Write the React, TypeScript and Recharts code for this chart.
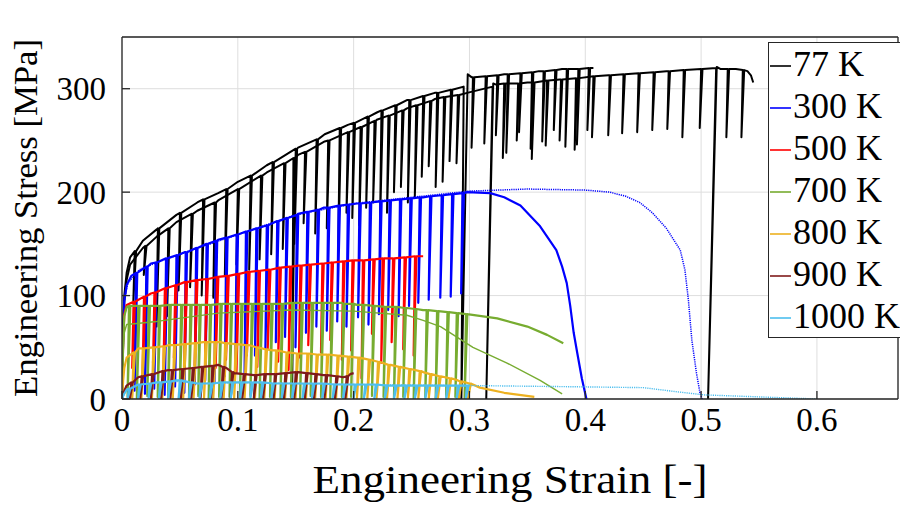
import React from "react";
import { CartesianGrid, Line, LineChart, XAxis, YAxis } from "recharts";

type Pt = [number, number];
type Spike = [number, number, number]; // strain, stress before unload, stress at bottom of unload

const FONT = '"Liberation Serif", "Times New Roman", serif';

const strainTicks = [0, 0.1, 0.2, 0.3, 0.4, 0.5, 0.6];
const stressTicks = [0, 100, 200, 300];

const legendLabels = ["77 K", "300 K", "500 K", "700 K", "800 K", "900 K", "1000 K"];
const legendColors = ["#000000", "#0000ff", "#ff0000", "#77ac30", "#edb120", "#7f1a1a", "#4dbeee"];

// 77 K, first test (stops at 0.41)
const k77aPath: Pt[] = [
  [0, 0], [0.001, 70], [0.002, 100], [0.004, 122], [0.007, 137], [0.018, 153], [0.03, 164],
  [0.047, 178], [0.065, 190], [0.083, 199], [0.1, 210], [0.125, 226], [0.152, 243], [0.175, 256],
  [0.195, 265], [0.22, 277], [0.246, 289], [0.27, 296], [0.295, 302], [0.293, 0], [0.2985, 314],
  [0.302, 311], [0.33, 314], [0.36, 317], [0.38, 319], [0.407, 320],
];
const k77aSpikes: Spike[] = [
  [0.011, 143, 95], [0.031, 165, 70], [0.05, 180, 105], [0.07, 193, 100], [0.09, 203, 120],
  [0.111, 216, 125], [0.13, 229, 140], [0.15, 242, 150], [0.168, 251, 160], [0.188, 262, 150],
  [0.2, 267, 175], [0.212, 273, 185], [0.224, 279, 170], [0.236, 284, 200], [0.248, 289, 190],
  [0.26, 293, 215], [0.272, 296, 205], [0.284, 299, 230], [0.303, 311, 243], [0.314, 312, 247],
  [0.324, 313, 255], [0.333, 314, 238], [0.344, 315, 258], [0.354, 316, 242], [0.364, 317, 249],
  [0.374, 318, 260], [0.384, 319, 244], [0.394, 319, 246], [0.403, 320, 260],
];

// 77 K, second test (to 0.545)
const k77bPath: Pt[] = [
  [0, 0], [0.001, 65], [0.002, 95], [0.004, 115], [0.007, 130], [0.018, 146], [0.03, 157],
  [0.047, 171], [0.065, 182], [0.083, 192], [0.1, 203], [0.125, 219], [0.152, 236], [0.175, 249],
  [0.195, 258], [0.22, 270], [0.246, 281], [0.27, 290], [0.298, 296], [0.32, 302], [0.3145, 0],
  [0.3205, 305], [0.323, 304], [0.35, 306], [0.378, 309], [0.42, 313], [0.47, 317], [0.513, 320],
  [0.506, 0], [0.5135, 321], [0.517, 319], [0.53, 319], [0.54, 317], [0.543, 313], [0.545, 306],
];
const k77bSpikes: Spike[] = [
  [0.02, 148, 120], [0.04, 165, 80], [0.06, 179, 108], [0.08, 190, 98], [0.1, 203, 130],
  [0.12, 216, 135], [0.14, 228, 145], [0.148, 233, 0], [0.158, 239, 170], [0.178, 250, 165],
  [0.195, 258, 180], [0.206, 263, 168], [0.218, 269, 190], [0.23, 274, 180], [0.242, 279, 205],
  [0.254, 284, 195], [0.266, 288, 225], [0.278, 292, 210], [0.29, 294, 228], [0.33, 305, 233],
  [0.342, 305, 250], [0.355, 306, 232], [0.367, 308, 245], [0.379, 309, 250], [0.392, 310, 241],
  [0.407, 312, 253], [0.421, 313, 255], [0.433, 314, 257], [0.446, 315, 258], [0.459, 316, 260],
  [0.472, 317, 261], [0.485, 318, 253], [0.5, 319, 262], [0.523, 319, 253], [0.536, 318, 253],
];

// 300 K
const k300Path: Pt[] = [
  [0, 0], [0.001, 60], [0.002, 95], [0.004, 110], [0.008, 119], [0.025, 131], [0.054, 142],
  [0.083, 154], [0.111, 163], [0.152, 179], [0.174, 185], [0.203, 189], [0.231, 192], [0.26, 195],
  [0.298, 200], [0.318, 199], [0.33, 195], [0.344, 187], [0.361, 167], [0.375, 144], [0.38, 128],
  [0.384, 112], [0.387, 90], [0.39, 64], [0.393, 45], [0.397, 20], [0.401, 0],
];
const k300Spikes: Spike[] = [
  [0.012, 122, 8], [0.021, 128, 5], [0.029, 132, 10], [0.038, 136, 4], [0.047, 139, 12],
  [0.055, 142, 6], [0.064, 146, 14], [0.073, 150, 18], [0.081, 153, 15], [0.09, 156, 22],
  [0.099, 159, 26], [0.107, 162, 20], [0.116, 165, 42], [0.125, 168, 48], [0.134, 172, 55],
  [0.142, 175, 60], [0.151, 178, 50], [0.16, 181, 64], [0.169, 183, 70], [0.178, 185, 66],
  [0.187, 187, 75], [0.195, 188, 70], [0.205, 189, 79], [0.214, 190, 72], [0.223, 191, 82],
  [0.231, 192, 86], [0.24, 193, 80], [0.249, 194, 90], [0.257, 195, 93], [0.266, 196, 96],
  [0.276, 197, 98], [0.285, 198, 99], [0.294, 199, 102],
];
const k300MonoPath: Pt[] = [
  [0, 0], [0.002, 95], [0.005, 112], [0.015, 125], [0.03, 132], [0.06, 144], [0.1, 159],
  [0.15, 178], [0.2, 189], [0.25, 195], [0.3, 201], [0.35, 203], [0.4, 202], [0.421, 200],
  [0.435, 196], [0.447, 190], [0.458, 180], [0.47, 165], [0.482, 144], [0.486, 125], [0.489, 96],
  [0.492, 57], [0.496, 25], [0.499, 6], [0.501, 0],
];

// 500 K
const k500Path: Pt[] = [
  [0, 0], [0.001, 55], [0.002, 82], [0.004, 91], [0.025, 102], [0.054, 113], [0.083, 118],
  [0.111, 123], [0.152, 129], [0.203, 134], [0.26, 138],
];
const k500Spikes: Spike[] = [
  [0.01, 94, 30], [0.019, 99, 22], [0.028, 103, 35], [0.037, 107, 25], [0.046, 110, 40],
  [0.055, 113, 28], [0.064, 115, 33], [0.073, 116, 45], [0.082, 118, 30], [0.091, 119, 38],
  [0.1, 121, 26], [0.109, 123, 42], [0.118, 124, 31], [0.127, 125, 48], [0.136, 127, 36],
  [0.145, 128, 28], [0.154, 129, 40], [0.162, 130, 52], [0.173, 131, 45], [0.181, 132, 57],
  [0.191, 133, 38], [0.199, 134, 47], [0.208, 134, 20], [0.217, 135, 63], [0.225, 136, 35],
  [0.234, 136, 55], [0.244, 137, 48], [0.253, 138, 42],
];

// 700 K
const k700Path: Pt[] = [
  [0, 0], [0.001, 55], [0.002, 80], [0.004, 89], [0.05, 91], [0.1, 92], [0.15, 93], [0.19, 93],
  [0.203, 91], [0.246, 88], [0.26, 86], [0.298, 82], [0.324, 78], [0.35, 70], [0.367, 62],
  [0.381, 54],
];
const k700Spikes: Spike[] = [
  [0.006, 90, 2], [0.014, 90, 1], [0.023, 90, 3], [0.032, 90, 2], [0.041, 91, 1], [0.051, 91, 2],
  [0.059, 91, 0], [0.067, 91, 3], [0.076, 91, 1], [0.085, 92, 2], [0.094, 92, 2], [0.103, 92, 1],
  [0.112, 92, 3], [0.12, 92, 1], [0.129, 92, 2], [0.138, 92, 0], [0.147, 93, 2], [0.155, 93, 1],
  [0.164, 93, 3], [0.173, 93, 2], [0.181, 93, 1], [0.191, 92, 2], [0.199, 92, 2], [0.208, 91, 1],
  [0.217, 90, 3], [0.227, 89, 2], [0.236, 89, 1], [0.244, 88, 2], [0.253, 87, 0], [0.263, 86, 2],
  [0.272, 85, 1], [0.281, 84, 3], [0.289, 83, 2], [0.297, 82, 1],
];
const k700MonoPath: Pt[] = [
  [0, 0], [0.001, 45], [0.002, 64], [0.004, 72], [0.03, 75], [0.083, 83], [0.145, 86], [0.2, 85],
  [0.246, 81], [0.26, 76], [0.275, 70], [0.303, 50], [0.332, 35], [0.361, 18], [0.38, 5],
];

// 800 K
const k800Path: Pt[] = [
  [0, 0], [0.001, 18], [0.002, 30], [0.004, 40], [0.014, 49], [0.04, 52], [0.07, 55], [0.085, 55],
  [0.11, 52], [0.13, 47], [0.152, 44], [0.174, 43], [0.203, 40], [0.232, 33], [0.26, 26],
  [0.29, 18], [0.301, 15], [0.309, 11], [0.33, 6], [0.356, 2],
];
const k800Spikes: Spike[] = [
  [0.01, 45, 0], [0.018, 49, 1], [0.027, 50, 0], [0.036, 51, 1], [0.045, 52, 0], [0.054, 53, 0],
  [0.063, 54, 1], [0.072, 55, 0], [0.08, 55, 0], [0.089, 54, 1], [0.098, 53, 0], [0.107, 52, 0],
  [0.116, 50, 1], [0.124, 48, 0], [0.133, 47, 0], [0.142, 45, 1], [0.151, 44, 0], [0.16, 44, 0],
  [0.168, 43, 1], [0.177, 43, 0], [0.186, 42, 0], [0.195, 41, 1], [0.204, 40, 0], [0.213, 38, 0],
  [0.221, 36, 1], [0.23, 33, 0], [0.239, 31, 0], [0.248, 29, 1], [0.257, 27, 0], [0.266, 24, 0],
  [0.274, 22, 1], [0.283, 20, 0], [0.292, 17, 0], [0.3, 15, 1],
];

// 900 K
const k900Path: Pt[] = [
  [0, 0], [0.001, 4], [0.002, 8], [0.004, 13], [0.014, 21], [0.04, 28], [0.07, 31], [0.083, 33],
  [0.09, 30], [0.097, 25], [0.114, 23], [0.152, 26], [0.174, 23], [0.191, 21], [0.197, 24],
  [0.2, 25],
];
const k900Spikes: Spike[] = [
  [0.008, 16, 0], [0.017, 22, 1], [0.026, 24, 0], [0.035, 27, 0], [0.043, 28, 1], [0.052, 29, 0],
  [0.061, 30, 0], [0.069, 31, 1], [0.078, 32, 0], [0.087, 31, 0], [0.095, 26, 1], [0.105, 24, 0],
  [0.115, 23, 0], [0.123, 24, 1], [0.132, 24, 0], [0.141, 25, 0], [0.15, 26, 1], [0.159, 25, 0],
  [0.167, 24, 0], [0.176, 23, 1], [0.185, 22, 0], [0.194, 22, 0],
];

// 1000 K
const k1000Path: Pt[] = [
  [0, 0], [0.001, 3], [0.002, 5], [0.004, 9], [0.014, 14], [0.03, 16], [0.047, 18], [0.055, 17],
  [0.065, 15], [0.1, 16], [0.152, 15], [0.2, 14], [0.25, 13], [0.3, 13],
];
const k1000Spikes: Spike[] = [
  [0.006, 10, 0], [0.015, 14, 0], [0.024, 15, 0], [0.033, 16, 0], [0.041, 17, 0], [0.05, 18, 0],
  [0.059, 16, 0], [0.068, 15, 0], [0.077, 15, 0], [0.086, 16, 0], [0.095, 16, 0], [0.103, 16, 0],
  [0.112, 16, 0], [0.121, 16, 0], [0.13, 15, 0], [0.139, 15, 0], [0.148, 15, 0], [0.157, 15, 0],
  [0.165, 15, 0], [0.174, 15, 0], [0.183, 14, 0], [0.192, 14, 0], [0.201, 14, 0], [0.21, 14, 0],
  [0.219, 14, 0], [0.228, 13, 0], [0.236, 13, 0], [0.245, 13, 0], [0.254, 13, 0], [0.263, 13, 0],
  [0.272, 13, 0], [0.281, 13, 0], [0.29, 13, 0], [0.298, 13, 0],
];
const k1000MonoPath: Pt[] = [
  [0, 0], [0.002, 5], [0.004, 9], [0.014, 14], [0.047, 17], [0.065, 15], [0.1, 16], [0.2, 14],
  [0.3, 13], [0.378, 12], [0.45, 11], [0.479, 7], [0.502, 4], [0.551, 2], [0.6, 0],
];

// unload leans back by this much strain, reload comes up slightly further on,
// so each cycle shows as a narrow spike like in the test record
const UNLOAD_BACK = 0.0012;
const RELOAD_FWD = 0.0012;

function toSeries(path: Pt[], spikes: Spike[] = []) {
  const out: { x: number; y: number }[] = [];
  let k = 0;
  const pushSpike = () => {
    const [s, top, low] = spikes[k++];
    out.push({ x: s, y: top }, { x: s - UNLOAD_BACK, y: low }, { x: s + RELOAD_FWD, y: top });
  };
  for (const [x, y] of path) {
    while (k < spikes.length && spikes[k][0] < x) pushSpike();
    out.push({ x, y });
  }
  while (k < spikes.length) pushSpike();
  return out;
}

const series = [
  { id: "77a", data: toSeries(k77aPath, k77aSpikes), color: legendColors[0], width: 2 },
  { id: "77b", data: toSeries(k77bPath, k77bSpikes), color: legendColors[0], width: 2 },
  { id: "300m", data: toSeries(k300MonoPath), color: legendColors[1], width: 1.5, dash: "1.2 1" },
  { id: "300", data: toSeries(k300Path, k300Spikes), color: legendColors[1], width: 2.2 },
  { id: "500", data: toSeries(k500Path, k500Spikes), color: legendColors[2], width: 2.2 },
  { id: "700m", data: toSeries(k700MonoPath), color: legendColors[3], width: 1.4 },
  { id: "700", data: toSeries(k700Path, k700Spikes), color: legendColors[3], width: 2.2 },
  { id: "800", data: toSeries(k800Path, k800Spikes), color: legendColors[4], width: 2.2 },
  { id: "900", data: toSeries(k900Path, k900Spikes), color: legendColors[5], width: 2.2 },
  { id: "1000m", data: toSeries(k1000MonoPath), color: legendColors[6], width: 1.4, dash: "1.2 1" },
  { id: "1000", data: toSeries(k1000Path, k1000Spikes), color: legendColors[6], width: 2.2 },
];

const AXIS = "#262626";

function XTitle(props: any) {
  const vb = props.viewBox;
  return (
    <text x={vb.x + vb.width / 2} y={vb.y + vb.height + 44} textAnchor="middle" fontFamily={FONT}
      fontSize={40} fill="#000" textLength={395} lengthAdjust="spacingAndGlyphs">
      Engineering Strain [-]
    </text>
  );
}

function YTitle(props: any) {
  const vb = props.viewBox;
  const x = vb.x - 5;
  const y = vb.y + vb.height / 2;
  return (
    <text x={x} y={y} transform={`rotate(-90, ${x}, ${y})`} textAnchor="middle" fontFamily={FONT}
      fontSize={34} fill="#000" textLength={358} lengthAdjust="spacingAndGlyphs">
      Engineering Stress [MPa]
    </text>
  );
}

function LegendBox() {
  return (
    <div style={{
      position: "absolute", left: 768, top: 42, width: 140, height: 296, background: "#fff",
      border: `1.5px solid ${AXIS}`, boxSizing: "border-box", fontFamily: FONT,
    }}>
      {legendLabels.map((label, i) => (
        <div key={label} style={{ height: 42, display: "flex", alignItems: "center" }}>
          <svg width={22} height={42} style={{ flex: "none" }}>
            <line x1={1} x2={22} y1={23} y2={23} stroke={legendColors[i]} strokeWidth={1.6} />
          </svg>
          <span style={{ fontSize: 36, lineHeight: "42px", marginLeft: 2, color: "#000", whiteSpace: "nowrap" }}>{label}</span>
        </div>
      ))}
    </div>
  );
}

export default function App() {
  return (
    <div style={{ position: "absolute", left: 0, top: 0, width: 900, height: 505, overflow: "hidden", background: "#fff" }}>
      <LineChart width={900} height={505} margin={{ top: 36, right: 0, bottom: 56, left: 42 }}>
        <CartesianGrid xAxisId="bottom" yAxisId="left" stroke="#dedede" strokeWidth={1} />
        <XAxis xAxisId="bottom" type="number" dataKey="x" domain={[0, 0.67]} allowDataOverflow
          ticks={strainTicks} height={50} tickSize={-8} tickMargin={17} stroke={AXIS} strokeWidth={1.3}
          tick={{ fill: "#000", fontSize: 33, fontFamily: FONT }} label={XTitle} />
        <XAxis xAxisId="top" orientation="top" type="number" dataKey="x" domain={[0, 0.67]} allowDataOverflow
          ticks={strainTicks} height={1} tickSize={-8} tick={false} stroke={AXIS} strokeWidth={1.3} />
        <YAxis yAxisId="left" type="number" domain={[0, 350]} allowDataOverflow ticks={stressTicks}
          width={80} tickSize={-8} tickMargin={24} stroke={AXIS} strokeWidth={1.3}
          tick={{ fill: "#000", fontSize: 33, fontFamily: FONT }} label={YTitle} />
        <YAxis yAxisId="right" orientation="right" type="number" domain={[0, 350]} allowDataOverflow
          ticks={stressTicks} width={2} tickSize={-8} tick={false} stroke={AXIS} strokeWidth={1.3} />
        {series.map((s) => (
          <Line key={s.id} xAxisId="bottom" yAxisId="left" data={s.data} dataKey="y" type="linear"
            stroke={s.color} strokeWidth={s.width} strokeDasharray={s.dash} dot={false} activeDot={false}
            isAnimationActive={false} strokeLinejoin="round" />
        ))}
      </LineChart>
      <LegendBox />
    </div>
  );
}
